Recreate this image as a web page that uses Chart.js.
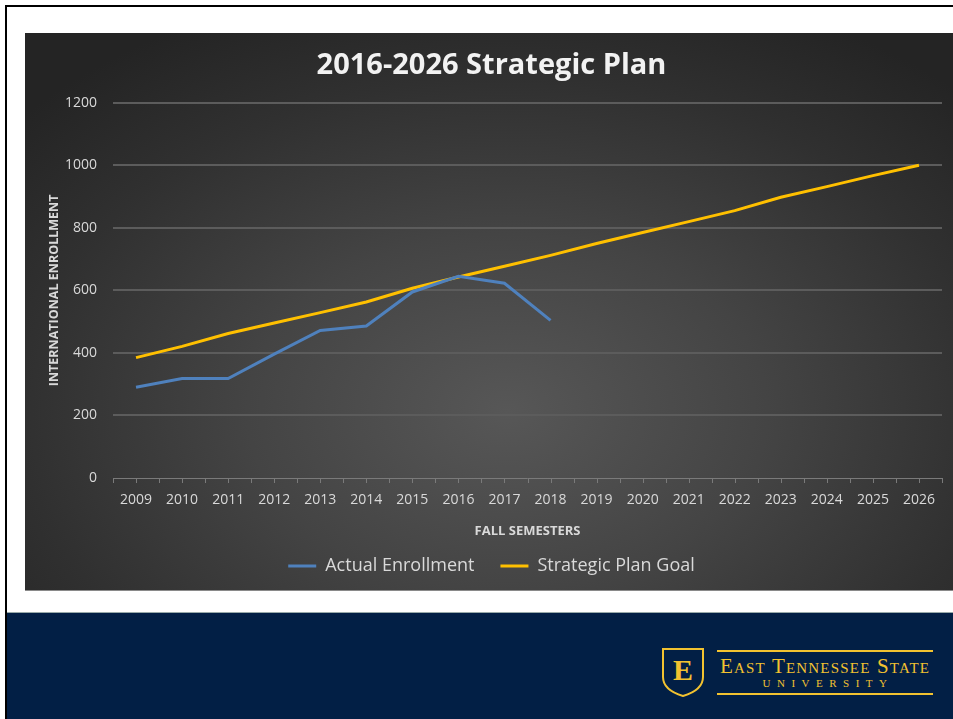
<!DOCTYPE html>
<html>
<head>
<meta charset="utf-8">
<script src="https://cdn.jsdelivr.net/npm/chart.js@4.4.1/dist/chart.umd.min.js"></script>
<style>
  html, body { margin: 0; padding: 0; }
  body { width: 953px; height: 719px; background: #fff; position: relative; overflow: hidden; font-family: "Open Sans", sans-serif; }
  .frame-top { position: absolute; left: 5px; top: 5px; width: 948px; height: 2px; background: #000; }
  .frame-left { position: absolute; left: 5px; top: 5px; width: 2px; height: 714px; background: #000; }
  .chart-box {
    position: absolute; left: 25px; top: 33px; width: 928px; height: 557px;
    background: radial-gradient(ellipse 70% 80% at 52% 68%, #575757 0%, #444 40%, #303030 75%, #242424 100%);
    border-bottom: 1px solid #8a8a8a;
  }
  .chart-box canvas { position: absolute; left: 0; top: 0; }
  .band { position: absolute; left: 7px; top: 612px; width: 946px; height: 107px; background: #021f45; border-top: 1px solid #9aa; }
  .logo { position: absolute; left: 647px; top: 34px; }
  .shield { position: absolute; left: 7px; top: 0; }
  .wordmark { position: absolute; left: 63px; top: 3px; width: 216px; }
  .rule { height: 2px; background: #f2c230; }
  .etsu { color: #f2c230; font-family: "Liberation Serif", "DejaVu Serif", serif; text-align: center; }
  .etsu.big { font-size: 21px; line-height: 20px; margin-top: 4px; font-variant: small-caps; letter-spacing: 1.2px; white-space: nowrap; }
  .etsu.small { font-size: 11px; line-height: 14px; letter-spacing: 6.5px; padding-left: 6px; margin-bottom: 3px; }
</style>
</head>
<body>
<div class="frame-top"></div>
<div class="frame-left"></div>
<div class="chart-box"><canvas id="chart" width="928" height="557"></canvas></div>
<div class="band">
  <div class="logo">
    <svg class="shield" width="44" height="50" viewBox="0 0 44 50">
      <path d="M2 2 H42 V30 C42 40 32 46 22 49 C12 46 2 40 2 30 Z" fill="none" stroke="#f2c230" stroke-width="2"/>
      <text x="22" y="33" text-anchor="middle" fill="#f2c230" font-family="Liberation Serif, serif" font-weight="bold" font-size="30">E</text>
    </svg>
    <div class="wordmark">
      <div class="rule"></div>
      <div class="etsu big">East Tennessee State</div>
      <div class="etsu small">UNIVERSITY</div>
      <div class="rule"></div>
    </div>
  </div>
</div>
<script>
// ================== Data ==================
const years = ["2009", "2010", "2011", "2012", "2013", "2014", "2015", "2016", "2017",
  "2018", "2019", "2020", "2021", "2022", "2023", "2024", "2025", "2026"];
const actualEnrollment = [290, 318, 318, 396, 472, 486, 595, 645, 623, 504];
const planGoal = [385, 421, 462, 496, 529, 563, 607, 643, 677, 712, 750, 785, 820, 855, 898, 932, 967, 1000];
const yTicks = [0, 200, 400, 600, 800, 1000, 1200];

const textColor = "#d9d9d9";
const gridColor = "#5c5c5c";

// ================== Tick marks on the category axis ==================
const xTickMarks = {
  id: "xTickMarks",
  afterDatasetsDraw(chart) {
    const { ctx, scales } = chart;
    const x = scales.x, y = scales.y;
    const base = y.getPixelForValue(0);
    const half = (x.getPixelForValue(1) - x.getPixelForValue(0)) / 2;
    ctx.save();
    ctx.strokeStyle = "#7a7a7a";
    ctx.lineWidth = 1;
    ctx.beginPath();
    ctx.moveTo(x.left, base + 0.5);
    ctx.lineTo(x.right, base + 0.5);
    for (let i = 0; i < years.length; i++) {
      const p = x.getPixelForValue(i);
      ctx.moveTo(Math.round(p) + 0.5, base);
      ctx.lineTo(Math.round(p) + 0.5, base + 5);
      ctx.moveTo(Math.round(p - half) + 0.5, base);
      ctx.lineTo(Math.round(p - half) + 0.5, base + 5);
      if (i === years.length - 1) {
        ctx.moveTo(Math.round(p + half) + 0.5, base);
        ctx.lineTo(Math.round(p + half) + 0.5, base + 5);
      }
    }
    ctx.stroke();
    ctx.restore();
  },
};

// ================== Chart ==================
new Chart(document.getElementById("chart"), {
  type: "line",
  data: {
    labels: years,
    datasets: [
      { label: "Actual Enrollment", data: actualEnrollment, borderColor: "#4f81bd", backgroundColor: "#4f81bd",
        borderWidth: 3, pointRadius: 0, tension: 0, fill: false },
      { label: "Strategic Plan Goal", data: planGoal, borderColor: "#ffc000", backgroundColor: "#ffc000",
        borderWidth: 3, pointRadius: 0, tension: 0, fill: false },
    ],
  },
  options: {
    responsive: false,
    animation: false,
    layout: { padding: { left: 16, right: 11, top: 0, bottom: 5 } },
    plugins: {
      title: {
        display: true,
        text: "2016-2026 Strategic Plan",
        color: "#f2f2f2",
        font: { family: "Open Sans", size: 29, weight: "bold" },
        padding: { top: 15, bottom: 20 },
      },
      legend: {
        position: "bottom",
        labels: {
          color: textColor,
          font: { family: "Open Sans", size: 18 },
          boxWidth: 28,
          boxHeight: 3,
          padding: 26,
          generateLabels(chart) {
            return chart.data.datasets.map((ds, i) => ({
              text: ds.label, fillStyle: ds.borderColor, strokeStyle: ds.borderColor,
              lineWidth: 0, fontColor: textColor, datasetIndex: i, hidden: false,
            }));
          },
        },
      },
      tooltip: { enabled: false },
    },
    scales: {
      x: {
        offset: true,
        grid: { display: false },
        border: { display: false },
        ticks: { color: textColor, font: { family: "Open Sans", size: 14 }, padding: 6, maxRotation: 0, autoSkip: false },
        title: { display: true, text: "FALL SEMESTERS", color: textColor, font: { family: "Open Sans", size: 13, weight: "bold" }, padding: { top: 8, bottom: -8 } },
        afterFit(s) { s.height = 53; },
      },
      y: {
        min: 0,
        max: 1200,
        afterBuildTicks(s) { s.ticks = yTicks.map((v) => ({ value: v })); },
        grid: { color: (c) => (c.tick.value === 0 ? "transparent" : gridColor), lineWidth: 2, drawTicks: false },
        border: { display: false },
        ticks: { color: textColor, font: { family: "Open Sans", size: 14 }, padding: 16, callback: (v) => String(v) },
        title: { display: true, text: "INTERNATIONAL ENROLLMENT", color: textColor, font: { family: "Open Sans", size: 12.5, weight: "bold" }, padding: { top: 6, bottom: 0 } },
        afterFit(s) { s.width = 72; },
      },
    },
  },
  plugins: [xTickMarks],
});
</script>
</body>
</html>
